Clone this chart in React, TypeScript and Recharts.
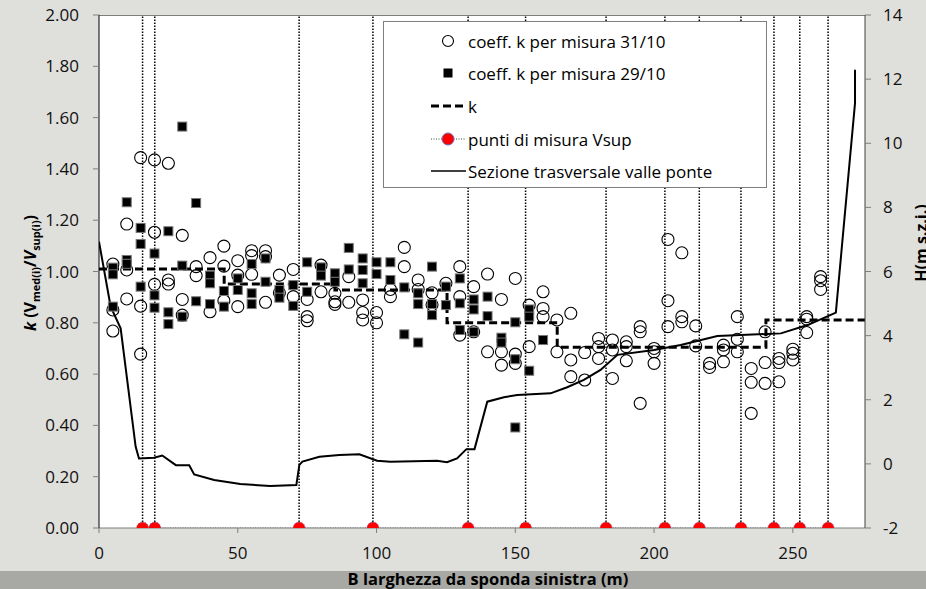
import React from 'react';
import { ComposedChart, XAxis, YAxis, Line, Scatter, ReferenceLine } from 'recharts';

const xTicks = [0, 50, 100, 150, 200, 250];
const kTicks = [0, 0.2, 0.4, 0.6, 0.8, 1.0, 1.2, 1.4, 1.6, 1.8, 2.0];
const hTicks = [-2, 0, 2, 4, 6, 8, 10, 12, 14];

// coeff. k per misura 31/10 : [x (m), k]
const misura3110: [number, number][] = [
  [5, 1.029], [5, 0.85], [5, 0.768],
  [10, 1.185], [10, 1.006], [10, 0.893],
  [15, 1.444], [15, 0.865], [15, 0.678],
  [20, 1.435], [20, 1.153], [20, 0.95],
  [25, 1.422], [25, 0.967], [25, 0.951],
  [30, 1.141], [30, 0.891], [30, 0.83],
  [35, 1.019], [35, 0.984],
  [40, 1.054], [40, 0.843],
  [45, 1.099], [45, 1.021], [45, 0.886],
  [50, 1.042], [50, 0.986], [50, 0.863],
  [55, 1.081], [55, 1.062], [55, 0.989],
  [60, 1.081], [60, 1.058], [60, 0.88],
  [65, 0.986], [65, 0.917],
  [70, 1.008], [70, 0.902],
  [75, 0.891], [75, 0.824], [75, 0.808],
  [80, 1.025], [80, 0.921],
  [85, 0.915], [85, 0.882], [85, 0.872],
  [90, 0.98], [90, 0.88],
  [95, 0.889], [95, 0.84], [95, 0.811],
  [100, 0.84], [100, 0.8],
  [105, 0.93], [105, 0.902],
  [110, 1.094], [110, 1.019],
  [115, 0.967], [115, 0.93],
  [120, 0.917], [120, 0.87],
  [125, 0.954],
  [130, 1.019], [130, 0.902], [130, 0.752],
  [135, 0.941], [135, 0.765],
  [140, 0.99], [140, 0.687],
  [145, 0.891], [145, 0.687], [145, 0.635],
  [150, 0.973], [150, 0.678], [150, 0.642],
  [155, 0.869], [155, 0.707],
  [160, 0.921], [160, 0.856], [160, 0.824],
  [165, 0.811], [165, 0.687],
  [170, 0.837], [170, 0.655], [170, 0.59],
  [175, 0.684], [175, 0.577],
  [180, 0.739], [180, 0.707], [180, 0.661],
  [185, 0.733], [185, 0.694], [185, 0.583],
  [190, 0.726], [190, 0.707], [190, 0.652],
  [195, 0.785], [195, 0.765], [195, 0.486],
  [200, 0.7], [200, 0.687], [200, 0.642],
  [205, 1.125], [205, 0.886], [205, 0.785],
  [210, 1.073], [210, 0.824], [210, 0.804],
  [215, 0.788], [215, 0.71],
  [220, 0.642], [220, 0.626],
  [225, 0.713], [225, 0.694], [225, 0.648],
  [230, 0.824], [230, 0.736], [230, 0.687],
  [235, 0.622], [235, 0.568], [235, 0.447],
  [240, 0.765], [240, 0.645], [240, 0.564],
  [245, 0.661], [245, 0.645], [245, 0.57],
  [250, 0.697], [250, 0.681], [250, 0.655],
  [255, 0.824], [255, 0.814], [255, 0.762],
  [260, 0.98], [260, 0.964], [260, 0.93],
];

// coeff. k per misura 29/10 : [x (m), k]
const misura2910: [number, number][] = [
  [5, 1.015], [5, 0.989], [5, 0.863],
  [10, 1.27], [10, 1.045], [10, 1.03],
  [15, 1.17], [15, 1.107], [15, 0.941],
  [20, 1.07], [20, 0.907], [20, 0.859],
  [25, 1.157], [25, 0.841], [25, 0.795],
  [30, 1.565], [30, 1.023], [30, 0.824],
  [35, 1.267], [35, 0.884],
  [40, 0.984], [40, 0.954], [40, 0.873],
  [45, 0.924], [45, 0.863],
  [50, 0.973], [50, 0.928],
  [55, 1.029], [55, 0.915], [55, 0.873],
  [60, 1.051], [60, 0.96],
  [65, 0.928], [65, 0.898],
  [70, 0.947], [70, 0.866],
  [75, 1.036], [75, 0.921],
  [80, 1.016], [80, 0.984],
  [85, 0.993], [85, 0.96],
  [90, 1.092], [90, 1.008],
  [95, 1.051], [95, 1.006], [95, 0.954],
  [100, 1.036], [100, 0.99],
  [105, 1.036], [105, 0.967],
  [110, 0.938], [110, 0.755],
  [115, 0.915], [115, 0.873], [115, 0.723],
  [120, 1.019], [120, 0.873], [120, 0.83],
  [125, 0.941], [125, 0.869],
  [130, 0.973], [130, 0.876], [130, 0.772],
  [135, 0.891], [135, 0.852], [135, 0.765],
  [140, 0.902], [140, 0.826],
  [145, 0.742], [145, 0.723],
  [150, 0.802], [150, 0.658], [150, 0.392],
  [155, 0.852], [155, 0.824], [155, 0.613],
  [160, 0.733],
];

// k (step values) : [x (m), k]
const kSteps: [number, number][] = [
  [0, 1.01], [45.1, 1.01], [45.1, 0.951], [85, 0.951], [85, 0.928],
  [125.4, 0.928], [125.4, 0.8], [165.1, 0.8], [165.1, 0.705],
  [240.3, 0.705], [240.3, 0.811], [276, 0.811],
];

// punti di misura Vsup (x, m)
const puntiMisura = [15.7, 20.1, 72.1, 98.7, 133, 153.7, 182.7, 203.9, 216.3, 231.3, 243.2, 252.5, 262.7];

// Sezione trasversale valle ponte : [x (m), H (m s.z.i.)]
const sezione: [number, number][] = [
  [0, 6.93], [4.2, 4.9], [7.8, 4.23], [13.2, 0.54], [14.4, 0.17], [19.8, 0.19],
  [22.8, 0.26], [27.7, -0.04], [32.5, -0.04], [34.3, -0.33], [41.5, -0.5],
  [50.9, -0.63], [61.7, -0.69], [71.1, -0.66], [72.2, -0.03], [73.3, 0.07],
  [79.4, 0.22], [86.6, 0.28], [93.8, 0.3], [100.2, 0.1], [105, 0.07],
  [121.8, 0.1], [125.4, 0.05], [129, 0.17], [132.4, 0.46], [135.3, 0.46],
  [139.9, 1.94], [145.9, 2.08], [150.7, 2.15], [162.7, 2.2], [168.7, 2.39],
  [174.7, 2.62], [180.7, 2.93], [186.8, 3.4], [200, 3.55], [209.6, 3.71],
  [222.8, 3.99], [245.7, 4.07], [255.3, 4.33], [265.5, 4.72], [272.4, 11.25],
  [272.4, 12.29],
];

const FONT = "'Open Sans', sans-serif";

const data3110 = misura3110.map(([x, k]) => ({ x, k }));
const data2910 = misura2910.map(([x, k]) => ({ x, k }));
const dataK = kSteps.map(([x, k]) => ({ x, k }));
const dataPunti = puntiMisura.map((x) => ({ x, k: 0 }));
const dataSezione = sezione.map(([x, h]) => ({ x, h }));

const OpenCircle = (p: any) => (
  <circle cx={p.cx} cy={p.cy} r={6} fill="none" stroke="#000" strokeWidth={1.1} />
);
const FilledSquare = (p: any) => (
  <rect x={p.cx - 4.5} y={p.cy - 4.5} width={9} height={9} fill="#000" stroke="#777" strokeWidth={1} />
);

const tickStyle = { fontFamily: FONT, fontSize: 17, fill: '#111' };

const legendItems = [
  { key: 'c', label: 'coeff. k per misura 31/10' },
  { key: 's', label: 'coeff. k per misura 29/10' },
  { key: 'k', label: 'k' },
  { key: 'p', label: 'punti di misura Vsup' },
  { key: 'l', label: 'Sezione trasversale valle ponte' },
];

const LegendIcon = ({ kind }: { kind: string }) => (
  <svg width={40} height={24} style={{ display: 'block' }}>
    {kind === 'c' && <circle cx={20} cy={12} r={5.5} fill="none" stroke="#000" strokeWidth={1.1} />}
    {kind === 's' && <rect x={15.5} y={7.5} width={9} height={9} fill="#000" />}
    {kind === 'k' && <line x1={3} y1={12} x2={38} y2={12} stroke="#000" strokeWidth={3} strokeDasharray="8 4" />}
    {kind === 'p' && (
      <g>
        <line x1={3} y1={12} x2={38} y2={12} stroke="#444" strokeWidth={1} strokeDasharray="1 1.5" />
        <circle cx={20} cy={12} r={6} fill="#ff0000" stroke="#6b6bc0" strokeWidth={1} />
      </g>
    )}
    {kind === 'l' && <line x1={3} y1={12} x2={38} y2={12} stroke="#000" strokeWidth={1.5} />}
  </svg>
);

const rowCenters = [19, 51, 84, 117, 149];

export default function App() {
  return (
    <div style={{ position: 'absolute', left: 0, top: 0, width: 926, height: 589, background: '#dfdfdb', overflow: 'hidden' }}>
      <div style={{ position: 'absolute', left: 0, top: 571, width: 926, height: 18, background: '#a8a8a4' }} />
      <div style={{ position: 'absolute', left: 99, top: 15, width: 766, height: 513, background: '#fff', borderTop: '1px solid #7f7f7f', boxSizing: 'border-box' }} />
      <div style={{ position: 'absolute', left: 0, top: 0 }}>
        <ComposedChart width={926} height={589} margin={{ top: 15, right: 0, bottom: 0, left: 0 }}>
          <XAxis
            xAxisId="x"
            dataKey="x"
            type="number"
            domain={[0, 276]}
            ticks={xTicks}
            allowDataOverflow
            height={61}
            tickSize={5}
            tickMargin={14}
            tick={tickStyle}
            stroke="#7f7f7f"
            tickLine={{ stroke: '#7f7f7f' }}
            axisLine={{ stroke: '#7f7f7f' }}
            label={{
              content: () => (
                <text x={488} y={585} textAnchor="middle" fontFamily={FONT} fontSize={16.5} fontWeight="bold" fill="#000">
                  B larghezza da sponda sinistra (m)
                </text>
              ),
            }}
          />
          <YAxis
            yAxisId="left"
            dataKey="k"
            type="number"
            domain={[0, 2]}
            ticks={kTicks}
            allowDataOverflow
            width={99}
            tickSize={6}
            tickMargin={14}
            tick={tickStyle}
            tickFormatter={(v: number) => v.toFixed(2)}
            tickLine={{ stroke: '#7f7f7f' }}
            axisLine={{ stroke: '#000' }}
            label={{
              content: () => (
                <text x={36} y={273} textAnchor="middle" transform="rotate(-90 36 273)" fontFamily={FONT} fontSize={16} fontWeight="bold" fill="#000">
                  <tspan fontStyle="italic">k</tspan>
                  <tspan> (V</tspan>
                  <tspan fontSize={11} dy={4}>med(i)</tspan>
                  <tspan dy={-4}>/</tspan>
                  <tspan fontStyle="italic">V</tspan>
                  <tspan fontSize={11} dy={4}>sup(i)</tspan>
                  <tspan dy={-4}>)</tspan>
                </text>
              ),
            }}
          />
          <YAxis
            yAxisId="right"
            orientation="right"
            dataKey="h"
            type="number"
            domain={[-2, 14]}
            ticks={hTicks}
            allowDataOverflow
            width={61}
            tickSize={6}
            tickMargin={12}
            tick={tickStyle}
            tickLine={{ stroke: '#7f7f7f' }}
            axisLine={{ stroke: '#404040' }}
            label={{
              content: () => (
                <text x={927} y={243} textAnchor="middle" transform="rotate(-90 927 243)" fontFamily={FONT} fontSize={16} fontWeight="bold" fill="#000">
                  H(m s.z.i.)
                </text>
              ),
            }}
          />
          {puntiMisura.map((x, i) => (
            <ReferenceLine key={i} x={x} xAxisId="x" yAxisId="left" stroke="#000" strokeWidth={1.5} strokeDasharray="1.5 1.5" />
          ))}
          <Line
            xAxisId="x"
            yAxisId="right"
            data={dataSezione}
            dataKey="h"
            type="linear"
            stroke="#000"
            strokeWidth={2}
            dot={false}
            isAnimationActive={false}
          />
          <Scatter xAxisId="x" yAxisId="left" data={data3110} dataKey="k" shape={OpenCircle} isAnimationActive={false} />
          <Scatter xAxisId="x" yAxisId="left" data={data2910} dataKey="k" shape={FilledSquare} isAnimationActive={false} />
          <Line
            xAxisId="x"
            yAxisId="left"
            data={dataK}
            dataKey="k"
            type="linear"
            stroke="#000"
            strokeWidth={3}
            strokeDasharray="8 4"
            dot={false}
            isAnimationActive={false}
          />
          <Line
            xAxisId="x"
            yAxisId="left"
            data={dataPunti}
            dataKey="k"
            type="linear"
            stroke="#444"
            strokeWidth={1}
            strokeDasharray="1 1.5"
            dot={{ r: 6, fill: '#ff0000', stroke: '#6b6bc0', strokeWidth: 1 }}
            isAnimationActive={false}
          />
        </ComposedChart>
      </div>
      <div
        style={{
          position: 'absolute', left: 383, top: 21, width: 384, height: 167, background: '#fff',
          border: '1px solid #7f7f7f', boxSizing: 'border-box', fontFamily: FONT, fontSize: 17, color: '#000',
        }}
      >
        {legendItems.map((it, i) => (
          <div key={it.key} style={{ position: 'absolute', left: 44, top: rowCenters[i] - 12, height: 24, display: 'flex', alignItems: 'center', whiteSpace: 'nowrap' }}>
            <LegendIcon kind={it.key} />
            <span>{it.label}</span>
          </div>
        ))}
      </div>
    </div>
  );
}
